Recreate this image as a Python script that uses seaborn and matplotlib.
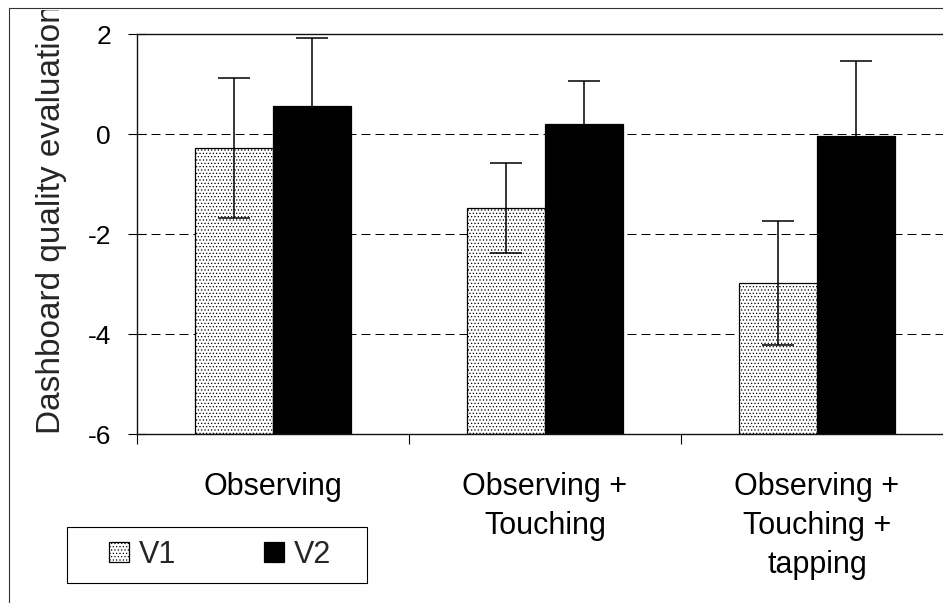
import numpy as np
import pandas as pd
import matplotlib
matplotlib.use("Agg")
import matplotlib.pyplot as plt
from matplotlib.patches import Rectangle
from matplotlib.transforms import Bbox, TransformedBbox
import seaborn as sns

# --- data ---
conditions = ["Observing", "Observing +\nTouching", "Observing +\nTouching +\ntapping"]
versions = ["V1", "V2"]
v1_mean = [-0.28, -1.48, -2.97]
v2_mean = [0.56, 0.20, -0.03]
v1_err = [1.40, 0.90, 1.24]
v2_err = [1.36, 0.87, 1.50]
y_ticks = [-6, -4, -2, 0, 2]
y_label = "Dashboard quality evaluation"
baseline = -6  # bars grow from the bottom of the axis (Excel style)

df = pd.DataFrame({
    "condition": conditions * 2,
    "version": ["V1"] * 3 + ["V2"] * 3,
    "score": v1_mean + v2_mean,
})
errs = {"V1": v1_err, "V2": v2_err}
means = {"V1": v1_mean, "V2": v2_mean}

# --- style ---
sns.set_style("white")
plt.rcParams["font.family"] = ["Liberation Sans", "DejaVu Sans"]
plt.rcParams["axes.unicode_minus"] = False
plt.rcParams["hatch.linewidth"] = 0.5
plt.rcParams["hatch.color"] = "black"

W, H = 943, 603
fig = plt.figure(figsize=(W / 100, H / 100), dpi=100)
ax = fig.add_axes([137 / W, 1 - 434 / H, 816 / W, 400 / H])

sns.barplot(data=df, x="condition", y="score", hue="version", order=conditions,
            hue_order=versions, palette={"V1": "white", "V2": "black"},
            saturation=1, width=0.577, edgecolor="black", linewidth=0.9,
            errorbar=None, legend=False, ax=ax)

# move bar bottoms to the axis floor and add the error bars
for cont, ver in zip(ax.containers, versions):
    centers = []
    for p in cont:
        top = p.get_y() + p.get_height()
        p.set_y(baseline)
        p.set_height(top - baseline)
        centers.append(p.get_x() + p.get_width() / 2)
        if ver == "V1":
            p.set_hatch(".....")
    ax.errorbar(centers, means[ver], yerr=errs[ver], fmt="none", ecolor="black",
                elinewidth=1.1, capsize=11.5, capthick=1.1, zorder=4)

ax.set_xlim(-0.5, len(conditions) - 0.5)
ax.set_ylim(y_ticks[0], y_ticks[-1])
ax.set_yticks(y_ticks)
ax.set_xticks(np.arange(len(conditions) + 1) - 0.5, minor=True)
ax.set_xlabel("")
for t in ax.get_xticklabels():
    t.set_linespacing(1.4)

ax.set_axisbelow(True)
ax.yaxis.grid(True, color="black", linewidth=0.72, linestyle=(0, (9, 5)))
for s in ax.spines.values():
    s.set_color("#111111")
    s.set_linewidth(1.0)

ax.tick_params(axis="x", which="major", length=0, pad=27, labelsize=22, colors="black")
ax.tick_params(axis="x", which="minor", length=7, width=0.8, direction="out", colors="black")
ax.tick_params(axis="y", which="major", length=13.5, width=0.8, direction="inout",
               pad=12, labelsize=19, colors="black")
ax.yaxis.set_ticks_position("left")
ax.xaxis.set_ticks_position("bottom")

# y label, cut by the outer frame as in the original
lab = ax.set_ylabel(y_label, fontsize=24, ha="left", va="baseline")
ax.yaxis.set_label_coords((59.5 - 137) / 816, 0)
lab.set_clip_box(TransformedBbox(Bbox([[0, 0], [1, 1 - 10 / H]]), fig.transFigure))
lab.set_clip_on(True)

# legend
ax.legend(handles=list(ax.containers), labels=versions, ncol=2, frameon=False,
          loc="center", bbox_to_anchor=(220 / W, 1 - 555 / H), bbox_transform=fig.transFigure,
          fontsize=22, handlelength=0.65, handleheight=0.65, handletextpad=0.3,
          columnspacing=2.9)
fig.add_artist(Rectangle((67 / W, 1 - 583 / H), 300 / W, 56 / H, fill=False,
                         edgecolor="black", linewidth=0.8, transform=fig.transFigure))

# outer chart frame (right and bottom fall outside the picture)
fig.add_artist(Rectangle((9 / W, -0.05), 1.2, 1.05 - 8 / H, fill=False,
                         edgecolor="#333333", linewidth=0.8, transform=fig.transFigure))

fig.savefig("out.png", dpi=100)
